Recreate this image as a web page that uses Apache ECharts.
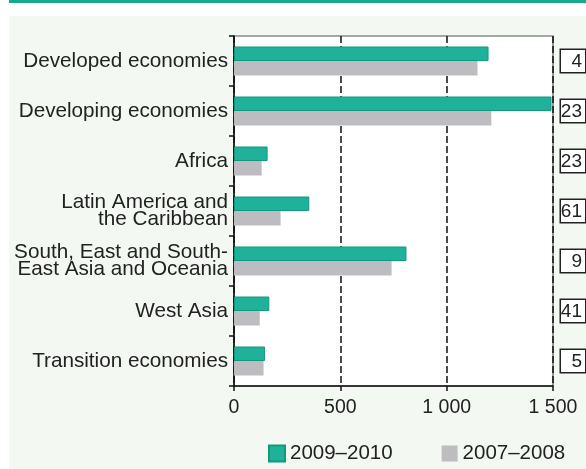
<!DOCTYPE html>
<html>
<head>
<meta charset="utf-8">
<script src="https://cdn.jsdelivr.net/npm/echarts@6/dist/echarts.min.js"></script>
<style>
html,body{margin:0;padding:0;background:#fff;}
#chart{width:586px;height:469px;}
</style>
</head>
<body>
<div id="chart"></div>
<script>
const categories = [
  'Developed economies',
  'Developing economies',
  'Africa',
  'Latin America and\nthe Caribbean',
  'South, East and South-\nEast Asia and Oceania',
  'West Asia',
  'Transition economies'
];
const values2009_2010 = [1197, 1493, 158, 354, 811, 166, 146];
const values2007_2008 = [1145, 1210, 130, 219, 741, 121, 139];
const boxedNumbers = ['4', '23', '23', '61', '9', '41', '5'];
const xTicks = [0, 500, 1000, 1500];
const seriesNames = ['2009\u20132010', '2007\u20132008'];

const FONT = '"Liberation Sans", Arial, sans-serif';
const chart = echarts.init(document.getElementById('chart'), null, {renderer: 'canvas'});

const option = {
  animation: false,
  backgroundColor: '#ffffff',
  textStyle: {fontFamily: FONT},
  graphic: [
    {type: 'rect', z: -10, shape: {x: 9, y: 16, width: 577, height: 453}, style: {fill: '#f3f8f2'}},
    {type: 'rect', z: -10, shape: {x: 9, y: 0, width: 577, height: 3}, style: {fill: '#17a98c'}}
  ],
  grid: {
    left: 234, right: 33, top: 36, bottom: 83,
    outerBoundsMode: 'none', containLabel: false,
    show: true, backgroundColor: '#ffffff', borderColor: '#555', borderWidth: 1.2
  },
  legend: {
    left: 263, top: 438,
    icon: 'rect',
    itemWidth: 16, itemHeight: 16, itemGap: 49,
    textStyle: {fontSize: 20.5, color: '#222', fontFamily: FONT},
    data: seriesNames
  },
  xAxis: {
    type: 'value', min: 0, max: 1500, interval: 500,
    axisLine: {show: true, lineStyle: {color: '#111', width: 1.5}},
    axisTick: {show: true, length: 5, lineStyle: {color: '#111', width: 1.5}},
    axisLabel: {
      fontSize: 19.5, color: '#222', margin: 12, fontFamily: FONT,
      formatter: function (v) { return xTicks.indexOf(v) >= 0 ? String(v).replace(/\B(?=(\d{3})+(?!\d))/g, ' ') : ''; }
    },
    splitLine: {show: true, lineStyle: {color: '#111', width: 1.5, type: [7, 3]}}
  },
  yAxis: [
    {
      type: 'category', data: categories, inverse: true,
      axisLine: {show: true, lineStyle: {color: '#111', width: 1.5}},
      axisTick: {show: true, length: 5, lineStyle: {color: '#111', width: 1.5}},
      axisLabel: {fontSize: 20.7, color: '#222', margin: 6, lineHeight: 16.5, fontFamily: FONT}
    },
    {
      type: 'category', data: categories, inverse: true, position: 'right',
      axisLine: {show: false}, axisTick: {show: false},
      axisLabel: {
        margin: 8,
        formatter: function (v, i) { return '{b|' + boxedNumbers[i] + '}'; },
        rich: {
          b: {
            fontSize: 19, color: '#222', fontFamily: FONT,
            width: 19, align: 'right', lineHeight: 19,
            padding: [2, 3, 1, 2],
            borderColor: '#222', borderWidth: 1.5, backgroundColor: '#ffffff'
          }
        }
      }
    }
  ],
  series: [
    {
      name: seriesNames[0], type: 'bar', data: values2009_2010,
      barWidth: 14.5, barGap: '0%',
      itemStyle: {color: '#20b19a', borderColor: '#109a7d', borderWidth: 1}
    },
    {
      name: seriesNames[1], type: 'bar', data: values2007_2008,
      barWidth: 14.5, barGap: '0%',
      itemStyle: {color: '#bdbdc1'}
    }
  ]
};
chart.setOption(option);
</script>
</body>
</html>
